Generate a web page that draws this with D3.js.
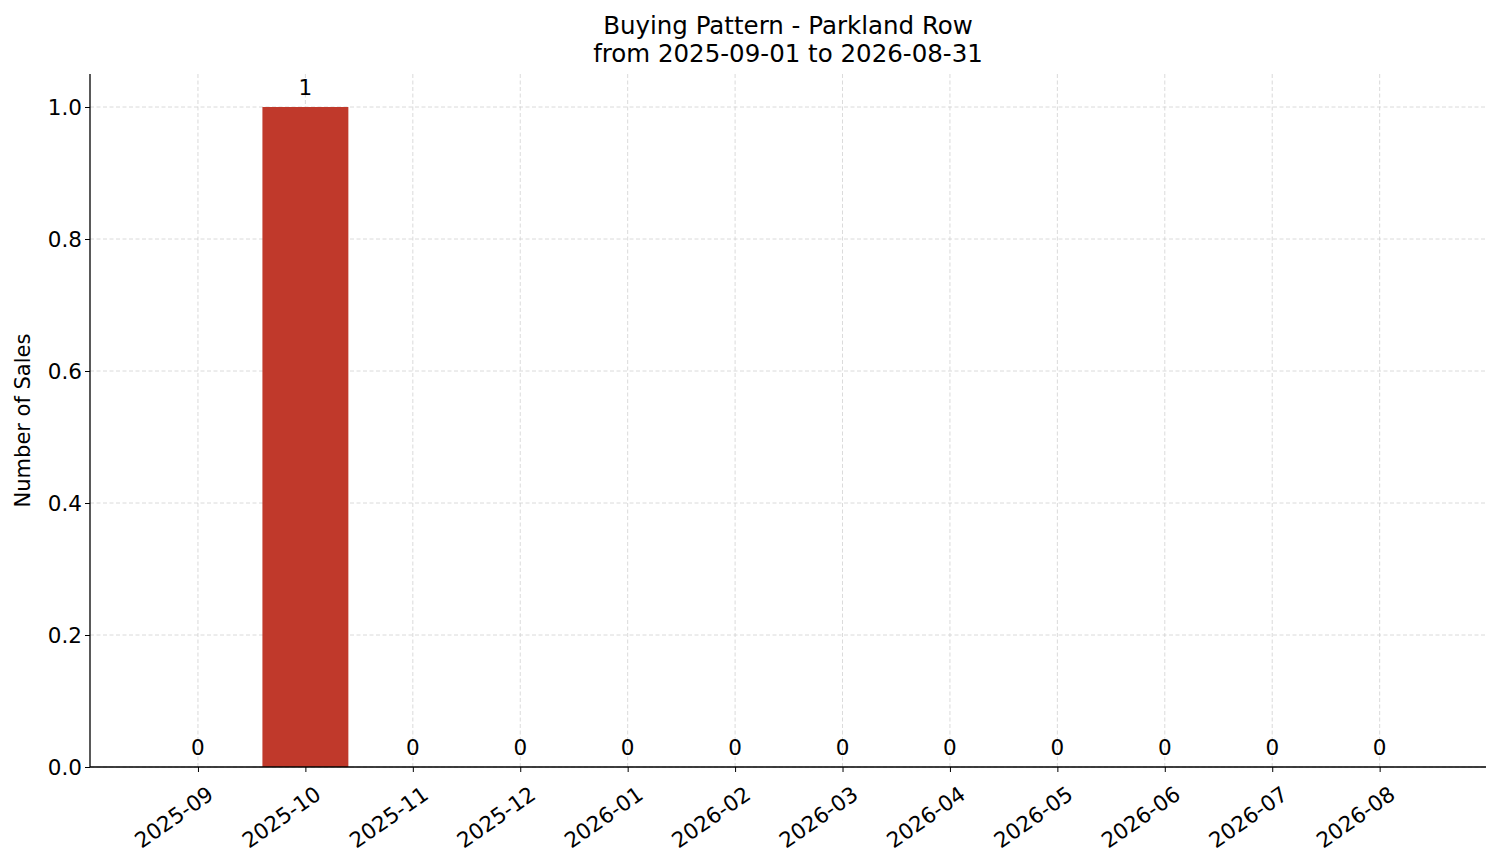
<!DOCTYPE html>
<html><head><meta charset="utf-8">
<script src="https://cdn.jsdelivr.net/npm/d3@7"></script>
<style>body{margin:0;background:#fff}text{font-family:"DejaVu Sans",sans-serif}</style>
</head><body><svg id="c" width="1501" height="863"></svg>
<script>
const months=["2025-09","2025-10","2025-11","2025-12","2026-01","2026-02","2026-03","2026-04","2026-05","2026-06","2026-07","2026-08"];
const sales=[0,1,0,0,0,0,0,0,0,0,0,0];
const yTicks=[0,0.2,0.4,0.6,0.8,1.0];
const svg=d3.select("#c");
const L=90,R=1486,T=74,B=767;
const x=d3.scaleLinear().domain([-1.005,11.99]).range([L,R]);
const y=d3.scaleLinear().domain([0,1.05]).range([B,T]);
const g=svg.append("g");
g.selectAll(".gx").data(months).enter().append("line").attr("x1",(d,i)=>x(i)).attr("x2",(d,i)=>x(i)).attr("y1",T).attr("y2",B).attr("stroke","#d0d0d0").attr("stroke-width",0.8).attr("stroke-dasharray","4,2.5");
g.selectAll(".gy").data(yTicks).enter().append("line").attr("x1",L).attr("x2",R).attr("y1",d=>y(d)).attr("y2",d=>y(d)).attr("stroke","#d0d0d0").attr("stroke-width",0.8).attr("stroke-dasharray","4,2.5");
g.selectAll(".b").data(sales).enter().append("rect").attr("x",(d,i)=>x(i-0.4)).attr("width",x(0.4)-x(-0.4)).attr("y",d=>y(d)).attr("height",d=>B-y(d)).attr("fill","#c0392b");
g.selectAll(".lb").data(sales).enter().append("text").attr("x",(d,i)=>x(i)).attr("y",d=>y(d)-12).attr("text-anchor","middle").attr("font-size",21.5).text(d=>d);
const ya=svg.append("g").attr("transform",`translate(${L},0)`).call(d3.axisLeft(y).tickValues(yTicks).tickFormat(d3.format(".1f")).tickSize(5).tickSizeOuter(0));
const xa=svg.append("g").attr("transform",`translate(0,${B})`).call(d3.axisBottom(x).tickValues(d3.range(12)).tickFormat(i=>months[i]).tickSize(5).tickSizeOuter(0));
[ya,xa].forEach(a=>{a.selectAll("text").attr("font-size",21.5).attr("fill","#000");a.select(".domain").attr("stroke","#000").attr("stroke-width",1.3);a.selectAll(".tick line").attr("stroke","#000");});
ya.selectAll("text").attr("dy","0.35em");
ya.select(".domain").attr("d",`M0,${T}V${B}`);
xa.select(".domain").attr("d",`M${L},0H${R}`);
xa.selectAll("text").attr("text-anchor","end").attr("dy",0).attr("transform","translate(12,24) rotate(-35)");
svg.append("text").attr("x",30).attr("y",(T+B)/2).attr("transform",`rotate(-90,30,${(T+B)/2})`).attr("text-anchor","middle").attr("font-size",21).text("Number of Sales");
svg.append("text").attr("x",788).attr("y",34).attr("text-anchor","middle").attr("font-size",24.5).text("Buying Pattern - Parkland Row");
svg.append("text").attr("x",788).attr("y",62).attr("text-anchor","middle").attr("font-size",24.5).text("from 2025-09-01 to 2026-08-31");
</script></body></html>
